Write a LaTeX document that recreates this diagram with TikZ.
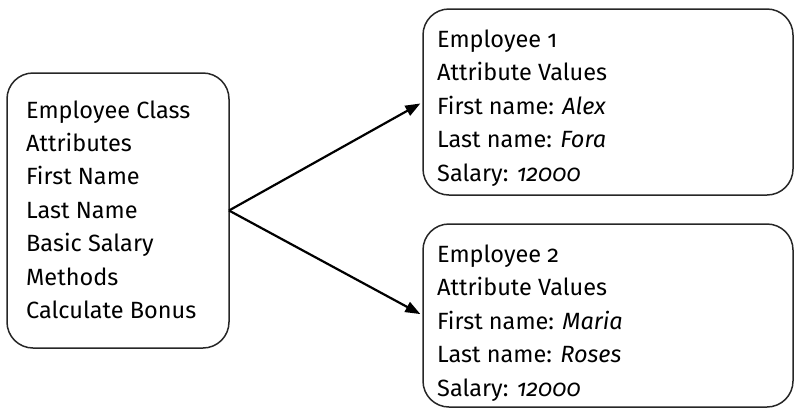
\documentclass[tikz,border=0pt]{standalone}
\usepackage{fontspec}
\setmainfont{Fira Sans}[Numbers=OldStyle]
\usetikzlibrary{arrows.meta}
\begin{document}
\begin{tikzpicture}[x=1pt,y=-1pt,
  card/.style={draw=black!85, line width=1.5pt, rounded corners=26pt,
    rectangle, inner sep=0pt, outer sep=0pt},
  txt/.style={anchor=base west, inner sep=0pt, font=\fontsize{23.5}{26}\selectfont},
  link/.style={line width=2.2pt, -{Triangle[length=15pt,width=11pt]}, shorten >=3pt}]
\useasboundingbox (0,0) rectangle (795,408);

% class box
\node[card, minimum width=222pt, minimum height=275pt] (cls) at (118,210.5) {};
% instance boxes
\node[card, minimum width=370pt, minimum height=186pt] (e1) at (608,102) {};
\node[card, minimum width=370pt, minimum height=183pt] (e2) at (608,315.5) {};

% class text
\foreach \t [count=\i from 0] in {Employee Class, Attributes, First Name, Last Name,
    Basic Salary, Methods, Calculate Bonus}
  \node[txt] (c\i) at (26,118+33.4*\i) {\t};

% first instance text
\node[txt] (a0) at (437,47) {Employee 1};
\node[txt] (a1) at (437,80.5) {Attribute Values};
\node[txt] (a2) at (437,114) {First name: \textit{Alex}};
\node[txt] (a3) at (437,147.5) {Last name: \textit{Fora}};
\node[txt] (a4) at (437,181) {Salary: \textit{12000}};

% second instance text
\node[txt] (b0) at (437,262) {Employee 2};
\node[txt] (b1) at (437,295.5) {Attribute Values};
\node[txt] (b2) at (437,329) {First name: \textit{Maria}};
\node[txt] (b3) at (437,362.5) {Last name: \textit{Roses}};
\node[txt] (b4) at (437,396) {Salary: \textit{12000}};

% instantiation arrows
\draw[link] (cls.east) -- (e1.west);
\draw[link] (cls.east) -- (e2.west);
\end{tikzpicture}
\end{document}
